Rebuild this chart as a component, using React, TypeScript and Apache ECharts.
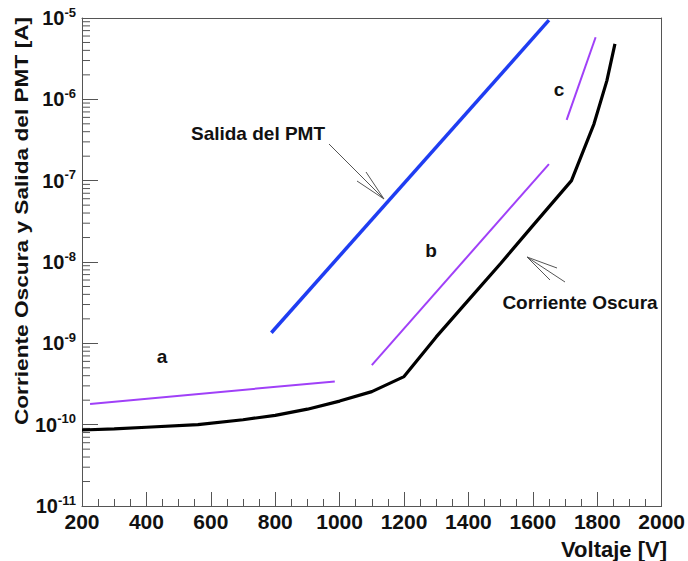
import React, { useEffect, useRef } from "react";
import * as echarts from "echarts";

// Voltage (V) and dark current (A)
const darkVoltage = [200, 300, 400, 560, 700, 800, 900, 1000, 1100, 1200, 1300, 1400, 1500, 1600, 1720, 1790, 1830, 1855];
const darkCurrent = [8.6e-11, 8.9e-11, 9.3e-11, 1.0e-10, 1.15e-10, 1.3e-10, 1.55e-10, 1.95e-10, 2.55e-10, 3.9e-10, 1.2e-9, 3.4e-9, 9.6e-9, 2.8e-8, 1.0e-7, 5.0e-7, 1.7e-6, 4.8e-6];

// PMT output
const pmtVoltage = [788, 1650];
const pmtCurrent = [1.35e-9, 9.4e-6];

// Fit segments a, b, c
const segAVoltage = [225, 985];
const segACurrent = [1.8e-10, 3.4e-10];
const segBVoltage = [1100, 1650];
const segBCurrent = [5.4e-10, 1.6e-7];
const segCVoltage = [1705, 1795];
const segCCurrent = [5.6e-7, 5.8e-6];

const xTicks = [200, 400, 600, 800, 1000, 1200, 1400, 1600, 1800, 2000];
const decadeExponents = [-11, -10, -9, -8, -7, -6];
const minorMultipliers = [2, 3, 4, 5, 6, 7, 8, 9];

const zip = (xs: number[], ys: number[]) => xs.map((x, i) => [x, ys[i]]);

export default function App() {
  const ref = useRef<HTMLDivElement>(null);
  useEffect(() => {
    if (!ref.current) return;
    const chart = echarts.init(ref.current, null, { renderer: "svg" });
    const minorTicks: number[][] = [];
    decadeExponents.forEach((e) =>
      minorMultipliers.forEach((m) => minorTicks.push([xTicks[0], m * Math.pow(10, e)]))
    );
    const font = "'Liberation Sans', Arial, sans-serif";
    const frame = "#555";
    const arrowStyle = { stroke: "#555", lineWidth: 1 };
    const ln = (x1: number, y1: number, x2: number, y2: number) => ({
      type: "line",
      shape: { x1, y1, x2, y2 },
      style: arrowStyle,
      silent: true,
    });
    const label = (text: string, x: number, y: number) => ({
      type: "text",
      x,
      y,
      style: {
        text,
        font: `bold 19px ${font}`,
        fill: "#111",
        align: "center",
        verticalAlign: "middle",
      },
    });
    chart.setOption({
      animation: false,
      backgroundColor: "#fff",
      grid: { left: 82, right: 21, top: 18, bottom: 55 },
      xAxis: [
        {
          type: "value",
          min: 200,
          max: 2000,
          interval: 200,
          axisLine: { show: true, onZero: false, lineStyle: { color: frame, width: 1 } },
          axisTick: { show: true, inside: true, length: 14, lineStyle: { color: frame } },
          minorTick: { show: true, splitNumber: 4, length: 7, lineStyle: { color: frame } },
          splitLine: { show: false },
          axisLabel: {
            margin: 5,
            fontSize: 21,
            fontWeight: "bold",
            fontFamily: font,
            color: "#111",
            verticalAlign: "top",
            formatter: (v: number) => String(v),
          },
        },
        {
          type: "value",
          position: "top",
          min: 200,
          max: 2000,
          interval: 200,
          axisLine: { show: true, onZero: false, lineStyle: { color: frame, width: 1 } },
          axisTick: { show: false },
          axisLabel: { show: false },
          splitLine: { show: false },
        },
      ],
      yAxis: [
        {
          type: "log",
          logBase: 10,
          min: 1e-11,
          max: 1e-5,
          axisLine: { show: true, onZero: false, lineStyle: { color: frame, width: 1 } },
          axisTick: { show: true, inside: true, length: 16, lineStyle: { color: frame } },
          splitLine: { show: false },
          axisLabel: {
            margin: 6,
            fontFamily: font,
            formatter: (v: number) => `{b|10}{s|${Math.round(Math.log10(v))}}`,
            rich: {
              b: { fontSize: 20, fontWeight: "bold", fontFamily: font, color: "#111" },
              s: { fontSize: 13, fontWeight: "bold", fontFamily: font, color: "#111", padding: [0, 0, 12, 0] },
            },
          },
        },
        {
          type: "log",
          logBase: 10,
          position: "right",
          min: 1e-11,
          max: 1e-5,
          axisLine: { show: true, onZero: false, lineStyle: { color: frame, width: 1 } },
          axisTick: { show: false },
          axisLabel: { show: false },
          splitLine: { show: false },
        },
      ],
      series: [
        {
          type: "custom",
          silent: true,
          data: minorTicks,
          renderItem: (_p: any, api: any) => {
            const pt = api.coord([api.value(0), api.value(1)]);
            return {
              type: "line",
              shape: { x1: pt[0], y1: pt[1], x2: pt[0] + 8, y2: pt[1] },
              style: { stroke: frame, lineWidth: 1 },
            };
          },
          z: 1,
        },
        {
          type: "line",
          data: zip(darkVoltage, darkCurrent),
          showSymbol: false,
          lineStyle: { color: "#000", width: 3.2 },
          z: 3,
        },
        {
          type: "line",
          data: zip(pmtVoltage, pmtCurrent),
          showSymbol: false,
          lineStyle: { color: "#1f3df2", width: 3.5 },
          z: 3,
        },
        {
          type: "line",
          data: zip(segAVoltage, segACurrent),
          showSymbol: false,
          lineStyle: { color: "#a040f8", width: 2 },
          z: 3,
        },
        {
          type: "line",
          data: zip(segBVoltage, segBCurrent),
          showSymbol: false,
          lineStyle: { color: "#a040f8", width: 2 },
          z: 3,
        },
        {
          type: "line",
          data: zip(segCVoltage, segCCurrent),
          showSymbol: false,
          lineStyle: { color: "#a040f8", width: 2 },
          z: 3,
        },
      ],
      graphic: [
        {
          type: "text",
          x: 21,
          y: 221,
          rotation: Math.PI / 2,
          scaleX: 1.26,
          style: {
            text: "Corriente Oscura y Salida del PMT [A]",
            font: `bold 18px ${font}`,
            fill: "#111",
            align: "center",
            verticalAlign: "middle",
          },
        },
        {
          type: "text",
          x: 667,
          y: 549,
          style: {
            text: "Voltaje [V]",
            font: `bold 22px ${font}`,
            fill: "#111",
            align: "right",
            verticalAlign: "middle",
          },
        },
        label("Salida del PMT", 258, 133),
        label("Corriente Oscura", 580, 302),
        label("a", 162, 356),
        label("b", 431, 250),
        label("c", 559, 89),
        ln(329, 144, 384, 199),
        ln(384, 199, 357, 181),
        ln(384, 199, 366, 172),
        ln(565, 282, 527, 257),
        ln(527, 257, 557, 268),
        ln(527, 257, 550, 280),
      ],
    });
    return () => chart.dispose();
  }, []);
  return (
    <div
      ref={ref}
      style={{ position: "fixed", left: 0, top: 0, width: 688, height: 561 }}
    />
  );
}
